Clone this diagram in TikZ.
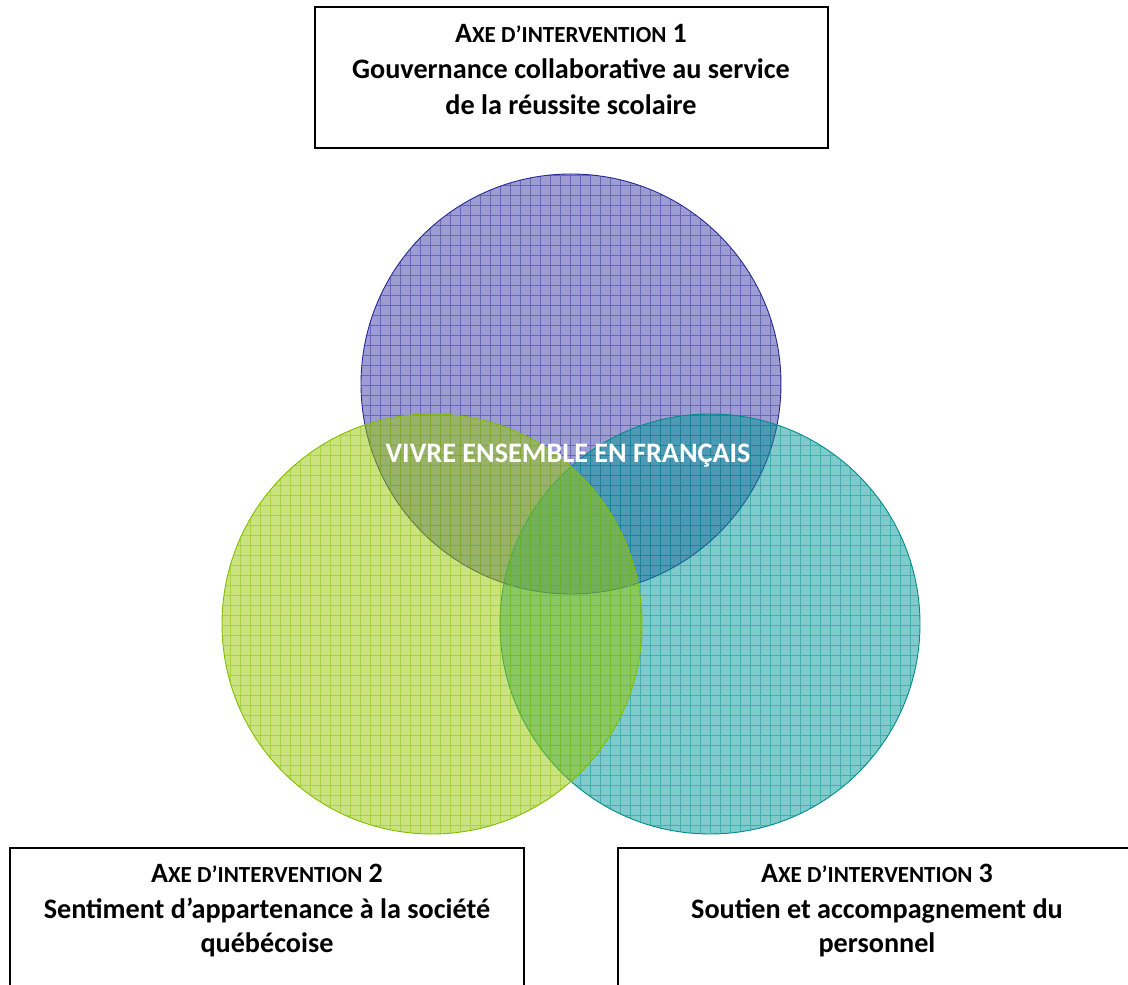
\documentclass[tikz,border=0pt]{standalone}
\usepackage{fontspec}
\setmainfont{Carlito}
\begin{document}
\begin{tikzpicture}[x=1pt,y=1pt,
  axebox/.style={draw=black, line width=1.3pt, fill=white, inner sep=0pt},
  ttl/.style={anchor=base, font=\bfseries\fontsize{28.2}{32}\selectfont, inner sep=0pt},
  hd/.style={anchor=base, font=\bfseries\fontsize{28}{32}\selectfont, inner sep=0pt}]
\definecolor{cpur}{RGB}{60,60,170}
\definecolor{cpurg}{RGB}{40,40,150}
\definecolor{cgrn}{RGB}{150,200,0}
\definecolor{cgrng}{RGB}{130,190,0}
\definecolor{cteal}{RGB}{0,150,150}
\definecolor{ctealg}{RGB}{0,140,140}
\useasboundingbox (0,0) rectangle (1128,985);
\fill[white] (0,0) rectangle (1128,985);
% circles
\coordinate (cp) at (571,601);
\coordinate (ct) at (710,361);
\coordinate (cg) at (432,361);
\newcommand{\patcircle}[3]{%
  \begin{scope}
    \clip (#1) circle (210);
    \fill[#2, fill opacity=0.5] (#1) circle (210);
    \draw[#3, opacity=0.45, line width=0.8pt, step=10] ([shift={(-215,-215)}]#1) grid ([shift={(215,215)}]#1);
  \end{scope}
  \draw[#3, line width=0.9pt] (#1) circle (210);}
\patcircle{cp}{cpur}{cpurg}
\patcircle{ct}{cteal}{ctealg}
\patcircle{cg}{cgrn}{cgrng}
\node[ttl, text=white] (center) at (568,522) {VIVRE ENSEMBLE EN FRANÇAIS};
% boxes
\draw[axebox] (315,978) rectangle (828,837);
\node[hd] (b1l1) at (571,942) {A{\fontsize{23}{26}\selectfont XE D’INTERVENTION} 1};
\node[ttl] (b1l2) at (571,906) {Gouvernance collaborative au service};
\node[ttl] (b1l3) at (571,870) {de la réussite scolaire};
\draw[axebox] (10,137) rectangle (524,-10);
\node[hd] (b2l1) at (267,102) {A{\fontsize{23}{26}\selectfont XE D’INTERVENTION} 2};
\node[ttl] (b2l2) at (267,66) {Sentiment d’appartenance à la société};
\node[ttl] (b2l3) at (267,32) {québécoise};
\draw[axebox] (618,137) rectangle (1140,-10);
\node[hd] (b3l1) at (877,102) {A{\fontsize{23}{26}\selectfont XE D’INTERVENTION} 3};
\node[ttl] (b3l2) at (877,66) {Soutien et accompagnement du};
\node[ttl] (b3l3) at (877,32) {personnel};
\end{tikzpicture}
\end{document}
